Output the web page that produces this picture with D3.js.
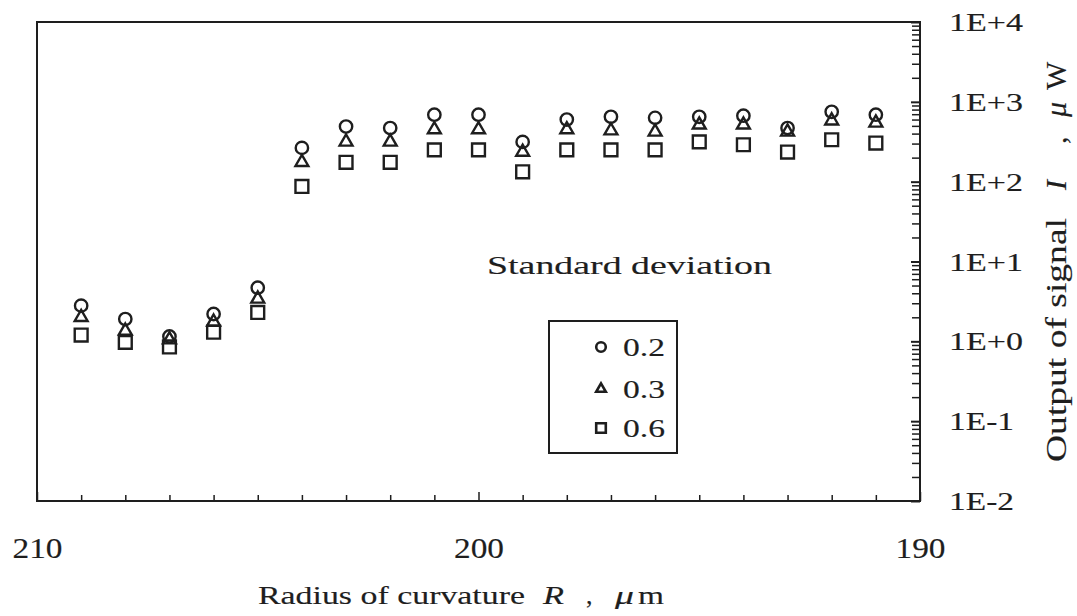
<!DOCTYPE html>
<html>
<head>
<meta charset="utf-8">
<script src="https://cdn.jsdelivr.net/npm/d3@7"></script>
<style>
  html, body { margin: 0; padding: 0; background: #fff; }
  svg { display: block; }
  text { font-family: "Liberation Serif", "Times New Roman", serif; fill: #1e1e1e; stroke: #1e1e1e; stroke-width: 0.15px; }
</style>
</head>
<body>
<svg id="chart" width="1077" height="616"></svg>
<script>
// Radius of curvature R (µm) for each measurement
const radius = [209, 208, 207, 206, 205, 204, 203, 202, 201, 200, 199, 198, 197, 196, 195, 194, 193, 192, 191];
// Output of signal I (µW) for each standard deviation
const sd02 = [2.8, 1.9, 1.15, 2.2, 4.7, 265, 490, 470, 690, 690, 315, 600, 650, 630, 650, 670, 470, 750, 690];
const sd03 = [2.0, 1.35, 1.05, 1.75, 3.4, 175, 315, 315, 450, 450, 235, 450, 435, 420, 515, 515, 420, 580, 545];
const sd06 = [1.2, 0.97, 0.85, 1.3, 2.3, 87, 175, 175, 250, 250, 133, 250, 250, 250, 315, 290, 235, 335, 305];
const seriesNames = ["0.2", "0.3", "0.6"];

// Axis ticks and labels
const xMajorTicks = [210, 200, 190];
const xMajorLabels = ["210", "200", "190"];
const xMinorTicks = [209, 208, 207, 206, 205, 204, 203, 202, 201, 199, 198, 197, 196, 195, 194, 193, 192, 191];
const yMajorTicks = [1e-2, 1e-1, 1e0, 1e1, 1e2, 1e3, 1e4];
const yMajorLabels = ["1E-2", "1E-1", "1E+0", "1E+1", "1E+2", "1E+3", "1E+4"];

(function draw() {
  const ink = "#1e1e1e";
  const svg = d3.select("#chart");

  const plotL = 37, plotR = 920, plotT = 22, plotB = 501;
  const x = d3.scaleLinear().domain([210, 190]).range([plotL, plotR]);
  const y = d3.scaleLog().domain([1e-2, 1e4]).range([plotB, plotT]);

  // minor log ticks 2..9 in every decade
  const yMinorTicks = [];
  for (let k = -2; k < 4; k++) for (let m = 2; m <= 9; m++) yMinorTicks.push(m * Math.pow(10, k));

  // set a text's drawn width, widening the glyphs themselves
  function fit(sel, w) {
    sel.attr("textLength", w).attr("lengthAdjust", "spacingAndGlyphs");
  }

  // Right log axis: ticks pointing into the plot
  const yMinorAxis = d3.axisRight(y).tickValues(yMinorTicks).tickSizeInner(-8).tickSizeOuter(0).tickFormat("");
  const yMajorAxis = d3.axisRight(y).tickValues(yMajorTicks).tickSizeInner(-9).tickSizeOuter(0)
    .tickPadding(29).tickFormat((d, i) => yMajorLabels[i]);

  const gyMinor = svg.append("g").attr("transform", `translate(${plotR},0)`).call(yMinorAxis);
  const gyMajor = svg.append("g").attr("transform", `translate(${plotR},0)`).call(yMajorAxis);
  [gyMinor, gyMajor].forEach(g => {
    g.select(".domain").remove();
    g.selectAll("line").attr("stroke", ink).attr("stroke-width", 1.5);
  });
  gyMajor.selectAll("line").attr("stroke-width", 2);
  gyMajor.selectAll("text")
    .attr("fill", ink).style("font-family", "Liberation Serif").style("font-size", "25px")
    .attr("dy", "0.34em")
    .each(function (d, i) {
      fit(d3.select(this), yMajorLabels[i].includes("+") ? 74 : 65);
    });

  // Bottom axis: ticks pointing up into the plot
  const xMinorAxis = d3.axisBottom(x).tickValues(xMinorTicks).tickSizeInner(-6).tickSizeOuter(0).tickFormat("");
  const xMajorAxis = d3.axisBottom(x).tickValues(xMajorTicks).tickSizeInner(-9).tickSizeOuter(0)
    .tickPadding(36).tickFormat((d, i) => xMajorLabels[i]);
  const gxMinor = svg.append("g").attr("transform", `translate(0,${plotB})`).call(xMinorAxis);
  const gxMajor = svg.append("g").attr("transform", `translate(0,${plotB})`).call(xMajorAxis);
  [gxMinor, gxMajor].forEach(g => {
    g.select(".domain").remove();
    g.selectAll("line").attr("stroke", ink).attr("stroke-width", 1.5);
  });
  gxMajor.selectAll("text")
    .attr("fill", ink).style("font-family", "Liberation Serif").style("font-size", "30px")
    .call(fit, 50);

  // Plot frame
  svg.append("rect")
    .attr("x", plotL).attr("y", plotT).attr("width", plotR - plotL).attr("height", plotB - plotT)
    .attr("fill", "none").attr("stroke", ink).attr("stroke-width", 2);

  // Markers
  const symbols = [d3.symbolCircle, d3.symbolTriangle, d3.symbolSquare];
  const sizes = [120, 72, 165];
  const legendSizes = [72, 40, 92];
  const series = [sd02, sd03, sd06];

  const gPts = svg.append("g");
  series.forEach((vals, si) => {
    gPts.selectAll(null)
      .data(vals.map((v, i) => ({ r: radius[i], v })))
      .join("path")
      .attr("d", d3.symbol().type(symbols[si]).size(sizes[si]))
      .attr("transform", d => `translate(${x(d.r)},${y(d.v)})`)
      .attr("fill", "none").attr("stroke", ink).attr("stroke-width", 2.4);
  });

  // Legend
  svg.append("text")
    .attr("x", 487).attr("y", 274)
    .style("font-size", "26px")
    .call(fit, 285)
    .text("Standard deviation");

  svg.append("rect")
    .attr("x", 549).attr("y", 321).attr("width", 128).attr("height", 132)
    .attr("fill", "none").attr("stroke", ink).attr("stroke-width", 2);

  const legendRows = [347, 389, 428];
  seriesNames.forEach((name, i) => {
    svg.append("path")
      .attr("d", d3.symbol().type(symbols[i]).size(legendSizes[i]))
      .attr("transform", `translate(601,${legendRows[i]})`)
      .attr("fill", "none").attr("stroke", ink).attr("stroke-width", 2.6);
    svg.append("text")
      .attr("x", 623).attr("y", legendRows[i] + 9)
      .style("font-size", "25px")
      .call(fit, 42)
      .text(name);
  });

  // X axis title
  const xt = svg.append("g").attr("transform", "translate(0,604)");
  xt.append("text").attr("x", 258).style("font-size", "26px").call(fit, 267).text("Radius of curvature");
  xt.append("text").attr("x", 543).style("font-size", "26px").style("font-style", "italic").call(fit, 21).text("R");
  xt.append("text").attr("x", 586).style("font-size", "26px").text(",");
  xt.append("text").attr("x", 615).style("font-size", "26px").style("font-style", "italic").call(fit, 19).text("\u03bc");
  xt.append("text").attr("x", 638).style("font-size", "26px").call(fit, 26).text("m");

  // Y axis title (rotated)
  const yt = svg.append("g").attr("transform", "translate(1066,462) rotate(-90)");
  yt.append("text").attr("x", 0).style("font-size", "30px").call(fit, 244).text("Output of signal");
  yt.append("text").attr("x", 272).style("font-size", "30px").style("font-style", "italic").text("I");
  yt.append("text").attr("x", 318).style("font-size", "30px").text(",");
  yt.append("text").attr("x", 345).style("font-size", "30px").style("font-style", "italic").text("\u03bc");
  yt.append("text").attr("x", 372).style("font-size", "30px").text("W");
})();
</script>
</body>
</html>
